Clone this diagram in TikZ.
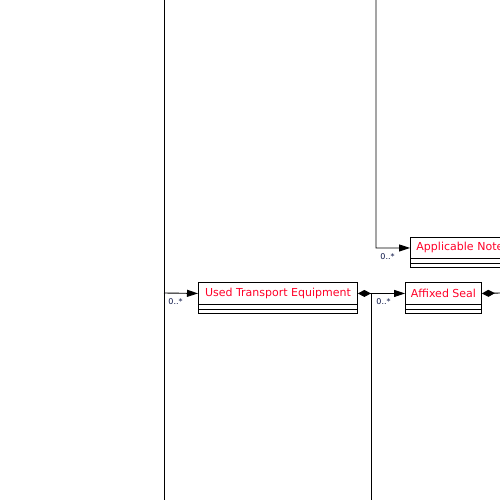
\documentclass[tikz,border=0pt]{standalone}
\usepackage{fontspec}
\setmainfont{DejaVu Sans}
\usetikzlibrary{arrows.meta}
\definecolor{clsred}{RGB}{255,0,40}
\definecolor{multnavy}{RGB}{10,20,70}
\begin{document}
\begin{tikzpicture}[x=1pt,y=-1pt,
  line width=0.9pt,
  hdr/.style={draw, rectangle, anchor=north west, inner ysep=0pt, inner xsep=2pt,
    text=clsred, font=\fontsize{11}{13}\selectfont},
  mult/.style={anchor=north west, inner sep=0pt, text=multnavy,
    font=\fontsize{8}{9}\selectfont},
  assoc/.style={-{Triangle[length=11pt,width=7pt]}},
  comp/.style={{Diamond[length=13pt,width=7pt]}-{Triangle[length=11pt,width=7pt]}},
  compend/.style={{Diamond[length=13pt,width=7pt]}-}]
\useasboundingbox (0,0) rectangle (500,500);

% class boxes: header node plus two empty compartments below it
\node[hdr, minimum height=22pt, minimum width=159pt] (ute) at (198,282) {Used Transport Equipment};
\draw (ute.south west) rectangle ([shift={(0,9)}]ute.south east);
\draw ([shift={(0,5)}]ute.south west) -- ([shift={(0,5)}]ute.south east);

\node[hdr, minimum height=22pt, minimum width=76pt] (seal) at (405,282) {Affixed Seal};
\draw (seal.south west) rectangle ([shift={(0,9)}]seal.south east);
\draw ([shift={(0,5)}]seal.south west) -- ([shift={(0,5)}]seal.south east);

\node[hdr, minimum height=21pt, inner xsep=6pt, text width=104pt, align=left] (note) at (410,237) {Applicable Note};
\draw (note.south west) rectangle ([shift={(0,9)}]note.south east);
\draw ([shift={(0,5)}]note.south west) -- ([shift={(0,5)}]note.south east);

% connector end points and bends
\coordinate (lt) at (164,0);
\coordinate (lb) at (164,500);
\coordinate (lj) at (164,293);
\coordinate (nt) at (376,0);
\coordinate (nb) at (376,248);
\coordinate (cj) at (371,293);
\coordinate (cb) at (371,500);
\coordinate (se) at (500,293);

% connectors
\draw (lt) -- (lb);
\draw[assoc] (lj) -- (ute.west);
\draw[comp] (ute.east) -- (seal.west);
\draw (cj) -- (cb);
\draw[assoc] (nt) -- (nb) -- (note.west);
\draw[compend] (seal.east) -- (se);

% multiplicities
\node[mult] (m1) at (168,298) {0..*};
\node[mult] (m2) at (376,298) {0..*};
\node[mult] (m3) at (380,253) {0..*};
\end{tikzpicture}
\end{document}
